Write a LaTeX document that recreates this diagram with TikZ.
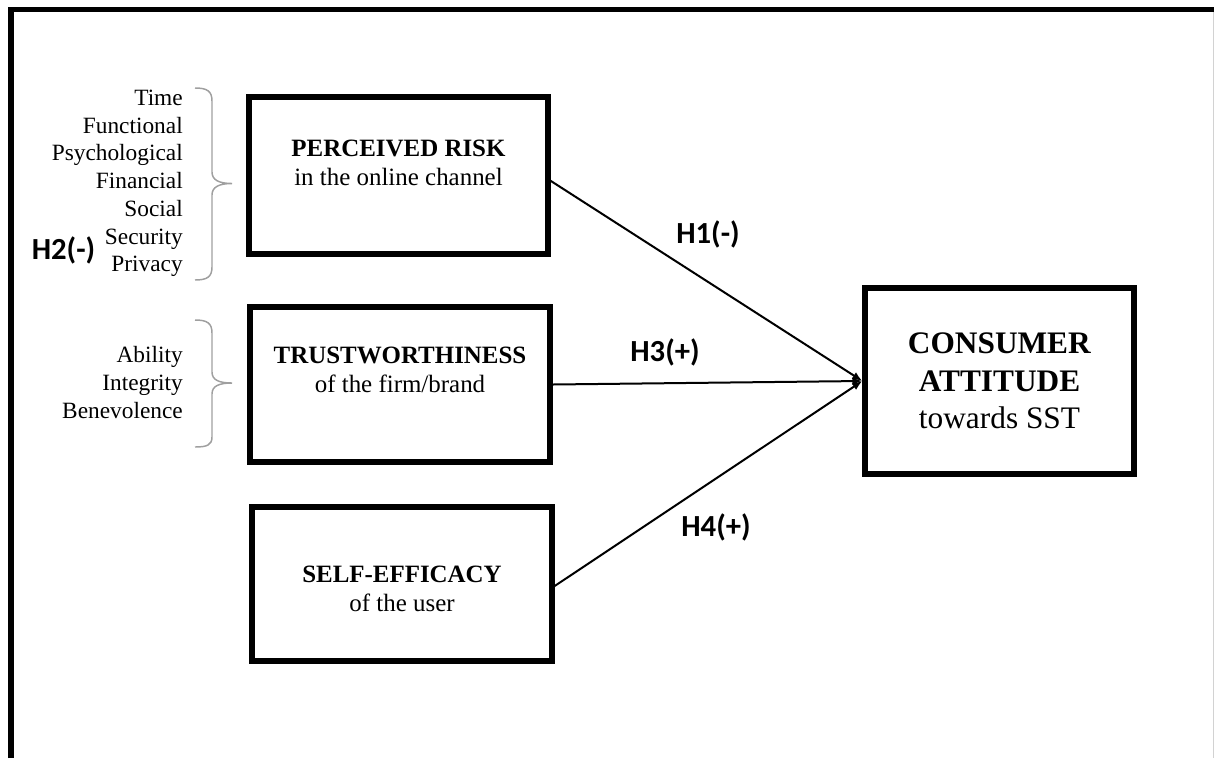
\documentclass[tikz,border=0pt]{standalone}
\usepackage{fontspec}
\setmainfont{Liberation Serif}
\newfontfamily\hypfont{Carlito}
\usepackage{tikz}
\usetikzlibrary{arrows.meta, positioning}

\begin{document}
\begin{tikzpicture}[x=0.75pt, y=-0.75pt,
    box/.style={draw, line width=4pt, inner sep=0pt},
    boxtext/.style={align=center, inner sep=0pt, font=\fontsize{18.7}{21.75}\selectfont},
    dims/.style={align=right, anchor=east, inner sep=0pt, font=\fontsize{17.5}{20.8}\selectfont},
    hyp/.style={inner sep=0pt, font=\hypfont\bfseries\fontsize{23}{27}\selectfont},
    brace/.style={draw=gray!75, line width=1.1pt},
    link/.style={line width=1.5pt, -{Latex[length=7.5pt,width=6pt]}}]

    \useasboundingbox (0,0) rectangle (1214,758);

    % Cadre
    \draw[gray!35, line width=0.75pt] (1213,9.5) -- (1213,758);
    \draw[line width=4.2pt] (10.8,758) -- (10.8,9.5) -- (1214,9.5);

    % Boîtes
    \node[box, minimum width=224.25pt, minimum height=117.75pt] (risk) at (398.5,175.5) {};
    \node[boxtext] (risktxt) at ([yshift=9.75pt]risk.center) {\textbf{PERCEIVED RISK}\\in the online channel};
    \node[box, minimum width=225pt, minimum height=116.25pt] (trust) at (400,384.5) {};
    \node[boxtext] (trusttxt) at ([yshift=11.25pt]trust.center) {\textbf{TRUSTWORTHINESS}\\of the firm/brand};
    \node[box, minimum width=225pt, minimum height=115.5pt] (efficacy) at (402,584) {};
    \node[boxtext] (efficacytxt) at ([yshift=-3.4pt]efficacy.center) {\textbf{SELF-EFFICACY}\\of the user};
    \node[box, minimum width=201.75pt, minimum height=139.5pt, align=center,
          font=\fontsize{23.5}{28.1}\selectfont] (attitude) at (999.5,381)
          {\textbf{CONSUMER}\\\textbf{ATTITUDE}\\towards SST};

    % Dimensions et accolades
    \node[dims] (riskdims) at (183,183.4) {Time\\Functional\\Psychological\\Financial\\Social\\Security\\Privacy};
    \node[dims] (trustdims) at (183,382.5) {Ability\\Integrity\\Benevolence};
    \draw[brace] (195,88) .. controls (207,88) and (212,91) .. (212,101) -- (212,172)
        .. controls (212,180) and (219,183.5) .. (232,183.5)
        .. controls (219,183.5) and (212,187) .. (212,195) -- (212,267)
        .. controls (212,277) and (207,280) .. (195,280);
    \draw[brace] (195,320) .. controls (207,320) and (212,323) .. (212,333) -- (212,372)
        .. controls (212,380) and (219,383) .. (232,383)
        .. controls (219,383) and (212,386) .. (212,394) -- (212,437)
        .. controls (212,445) and (207,447) .. (195,447);

    % Hypothèses
    \node[hyp] (h1) at (708,234) {H1(-)};
    \node[hyp] (h2) at (63.5,250) {H2(-)};
    \node[hyp] (h3) at (665,352) {H3(+)};
    \node[hyp] (h4) at (716,527) {H4(+)};

    % Transitions
    \path[link]
    ([yshift=-4pt]risk.east) edge (attitude.west)
    (trust.east) edge (attitude.west)
    ([yshift=-1.5pt]efficacy.east) edge (attitude.west);

\end{tikzpicture}
\end{document}
